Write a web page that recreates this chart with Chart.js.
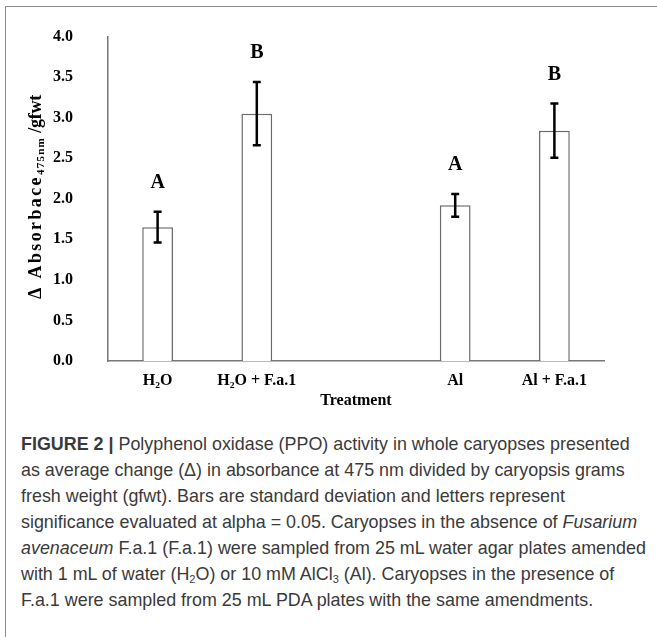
<!DOCTYPE html>
<html><head><meta charset="utf-8">
<script src="https://cdn.jsdelivr.net/npm/chart.js@4.4.0/dist/chart.umd.min.js"></script>
<style>
html,body{margin:0;padding:0;background:#fff;width:657px;height:637px;overflow:hidden}
#frame{position:absolute;left:5px;top:6px;width:700px;height:700px;border-left:1px solid #8a8a8a;border-top:1px solid #8a8a8a}
#wrap{position:absolute;left:0;top:0;width:657px;height:425px}
#cap{position:absolute;left:21px;top:431px;white-space:nowrap;font-family:"Liberation Sans",Arial,sans-serif;font-size:17.9px;line-height:26px;color:#3a3a3a}
#cap sub{font-size:11px;line-height:0;vertical-align:-3px}
</style></head>
<body>
<div id="frame"></div>
<div id="wrap"><canvas id="c" width="657" height="425"></canvas></div>
<div id="cap"><b>FIGURE 2 |</b> Polyphenol oxidase (PPO) activity in whole caryopses presented<br>as average change (Δ) in absorbance at 475 nm divided by caryopsis grams<br>fresh weight (gfwt). Bars are standard deviation and letters represent<br>significance evaluated at alpha = 0.05. Caryopses in the absence of <i>Fusarium</i><br><i>avenaceum</i> F.a.1 (F.a.1) were sampled from 25 mL water agar plates amended<br>with 1 mL of water (H<sub>2</sub>O) or 10 mM AlCl<sub>3</sub> (Al). Caryopses in the presence of<br>F.a.1 were sampled from 25 mL PDA plates with the same amendments.</div>
<script>
const categories = ['H\u2082O', 'H\u2082O + F.a.1', '', 'Al', 'Al + F.a.1'];
const means = [1.65, 3.05, null, 1.92, 2.84];
const sds = [0.19, 0.39, null, 0.14, 0.335];
const letters = ['A', 'B', '', 'A', 'B'];
const yTicks = [0, 0.5, 1, 1.5, 2, 2.5, 3, 3.5, 4];

const SERIF = '"Liberation Serif","Times New Roman",serif';

const errPlugin = {
  id: 'err',
  afterDatasetsDraw(chart) {
    const ctx = chart.ctx, ys = chart.scales.y, meta = chart.getDatasetMeta(0);
    ctx.save();
    ctx.strokeStyle = '#000'; ctx.lineWidth = 2.5; ctx.lineCap = 'butt';
    meta.data.forEach((bar, i) => {
      if (means[i] == null) return;
      const x = bar.x;
      const yt = ys.getPixelForValue(means[i] + sds[i]);
      const yb = ys.getPixelForValue(means[i] - sds[i]);
      ctx.beginPath();
      ctx.moveTo(x, yt); ctx.lineTo(x, yb);
      ctx.moveTo(x - 4, yt); ctx.lineTo(x + 4, yt);
      ctx.moveTo(x - 4, yb); ctx.lineTo(x + 4, yb);
      ctx.stroke();
      ctx.fillStyle = '#000';
      ctx.font = 'bold 20px ' + SERIF;
      ctx.textAlign = 'center'; ctx.textBaseline = 'middle';
      ctx.fillText(letters[i], x, yt - 29);
    });
    ctx.restore();
  }
};

const yTitlePlugin = {
  id: 'ytitle',
  afterDraw(chart) {
    const ctx = chart.ctx;
    ctx.save();
    ctx.translate(35, 197);
    ctx.rotate(-Math.PI / 2);
    ctx.fillStyle = '#000';
    ctx.textAlign = 'left'; ctx.textBaseline = 'alphabetic';
    const segs = [
      {t: '\u0394 Absorbace', size: 18, len: 124, dy: 6},
      {t: '475nm', size: 11, len: 38, dy: 9},
      {t: ' /gfwt', size: 18, len: 42, dy: 6}
    ];
    let total = segs.reduce((a, s) => a + s.len, 0);
    let x = -total / 2;
    segs.forEach(s => {
      ctx.font = 'bold ' + s.size + 'px ' + SERIF;
      ctx.letterSpacing = '0px';
      const w = ctx.measureText(s.t).width;
      const sp = (s.len - w) / s.t.length;
      ctx.letterSpacing = sp.toFixed(2) + 'px';
      ctx.fillText(s.t, x, s.dy);
      x += s.len;
    });
    ctx.restore();
  }
};

new Chart(document.getElementById('c'), {
  type: 'bar',
  data: {
    labels: categories,
    datasets: [{
      data: means,
      backgroundColor: '#ffffff',
      borderColor: '#6a6a6a',
      borderWidth: 1.5,
      barPercentage: 0.31,
      categoryPercentage: 1
    }]
  },
  options: {
    responsive: false,
    animation: false,
    layout: {padding: {top: 32, right: 53, left: 0, bottom: 0}},
    plugins: {legend: {display: false}, tooltip: {enabled: false}},
    scales: {
      x: {
        grid: {display: false},
        border: {color: '#777', width: 1.5},
        ticks: {color: '#000', font: {family: SERIF, size: 16, weight: 'bold'}, padding: 2, maxRotation: 0, autoSkip: false},
        title: {display: true, text: 'Treatment', color: '#000', font: {family: SERIF, size: 16, weight: 'bold'}, padding: {top: 0, bottom: 15}},
        afterFit(s) { s.height = 425 - 361; }
      },
      y: {
        min: 0, max: 4,
        grid: {display: false},
        border: {color: '#777', width: 1.5},
        afterBuildTicks(s) { s.ticks = yTicks.map(v => ({value: v})); },
        ticks: {color: '#000', font: {family: SERIF, size: 16, weight: 'bold'}, padding: 27, callback: v => Number(v).toFixed(1)},
        afterFit(s) { s.width = 108; }
      }
    }
  },
  plugins: [errPlugin, yTitlePlugin]
});
</script>
</body></html>
